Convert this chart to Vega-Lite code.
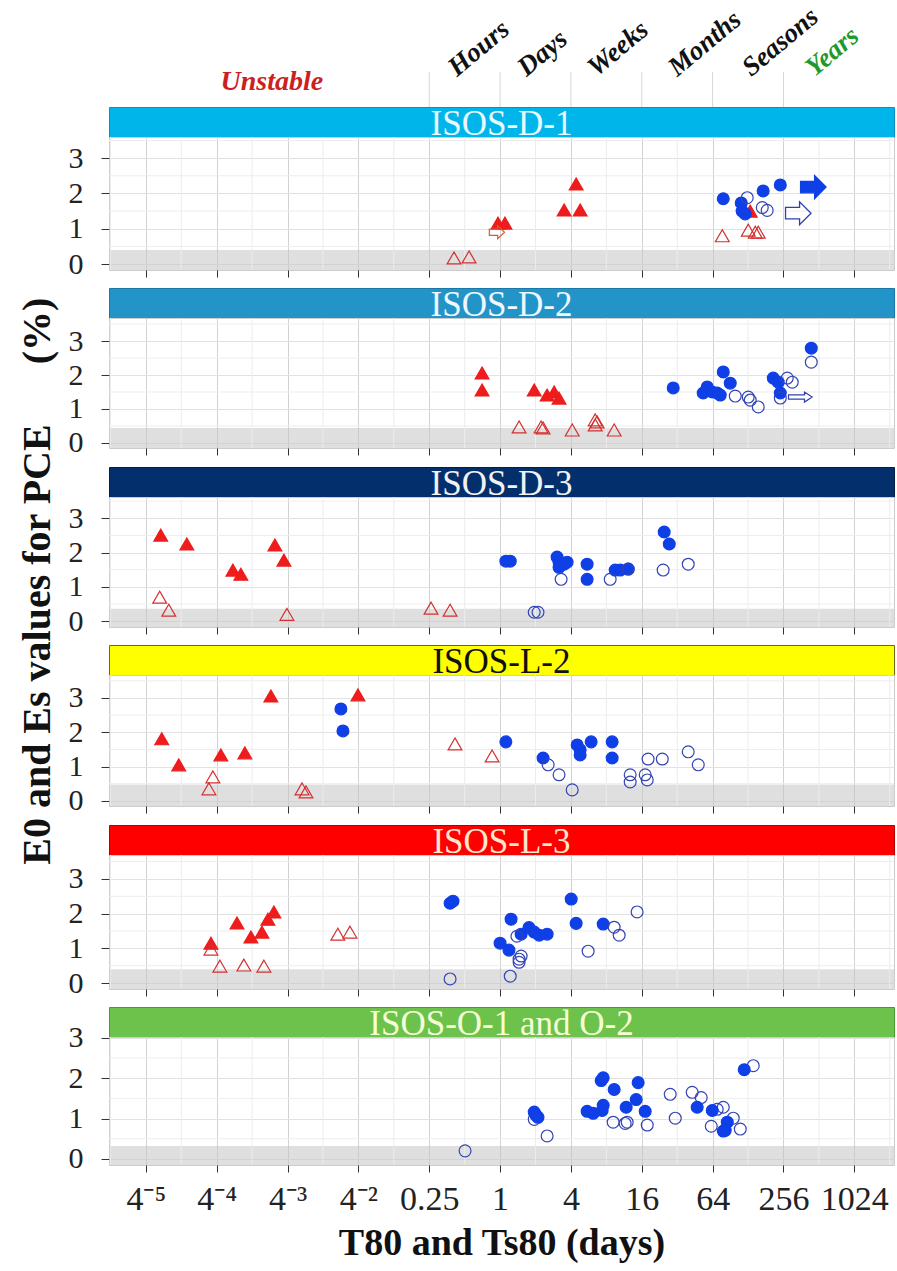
{
  "$schema": "https://vega.github.io/schema/vega-lite/v6.json",
  "background": "white",
  "padding": {"left": 17, "top": 0, "right": 3, "bottom": 2},
  "config": {"view": {"stroke": null}, "font": "Liberation Serif, Times New Roman, serif"},
  "title": {"text": "E0 and Es values for PCE\u00a0\u00a0\u00a0\u00a0\u00a0\u00a0(%)", "orient": "left", "anchor": "middle", "font": "Liberation Serif, Times New Roman, serif", "fontSize": 40, "fontWeight": "bold", "color": "#111111", "offset": 10, "dx": 50},
  "datasets": {
    "pts": [
      {"panel":"ISOS-D-1","series":"E0 unstable","days":0.96,"pce":1.16},
      {"panel":"ISOS-D-1","series":"E0 unstable","days":1.10,"pce":1.16},
      {"panel":"ISOS-D-1","series":"E0 unstable","days":3.50,"pce":1.53},
      {"panel":"ISOS-D-1","series":"E0 unstable","days":4.79,"pce":1.53},
      {"panel":"ISOS-D-1","series":"E0 unstable","days":4.43,"pce":2.27},
      {"panel":"ISOS-D-1","series":"E0 unstable","days":133.6,"pce":1.50},
      {"panel":"ISOS-D-1","series":"Es unstable, ongoing","days":0.94,"pce":0.90},
      {"panel":"ISOS-D-1","series":"Es unstable","days":0.406,"pce":0.17},
      {"panel":"ISOS-D-1","series":"Es unstable","days":0.545,"pce":0.20},
      {"panel":"ISOS-D-1","series":"Es unstable","days":77.3,"pce":0.80},
      {"panel":"ISOS-D-1","series":"Es unstable","days":128.5,"pce":0.96},
      {"panel":"ISOS-D-1","series":"Es unstable","days":147.4,"pce":0.90},
      {"panel":"ISOS-D-1","series":"Es unstable","days":156.3,"pce":0.90},
      {"panel":"ISOS-D-1","series":"E0 stable","days":78.8,"pce":1.85},
      {"panel":"ISOS-D-1","series":"E0 stable","days":112,"pce":1.73},
      {"panel":"ISOS-D-1","series":"E0 stable","days":114,"pce":1.50},
      {"panel":"ISOS-D-1","series":"E0 stable","days":121,"pce":1.42},
      {"panel":"ISOS-D-1","series":"E0 stable","days":172,"pce":2.07},
      {"panel":"ISOS-D-1","series":"E0 stable","days":240.5,"pce":2.24},
      {"panel":"ISOS-D-1","series":"Es stable","days":126,"pce":1.88},
      {"panel":"ISOS-D-1","series":"Es stable","days":169,"pce":1.60},
      {"panel":"ISOS-D-1","series":"Es stable","days":186,"pce":1.52},
      {"panel":"ISOS-D-1","series":"E0 stable, ongoing","days":459,"pce":2.18},
      {"panel":"ISOS-D-1","series":"Es stable, ongoing","days":342,"pce":1.44},

      {"panel":"ISOS-D-2","series":"E0 unstable","days":0.703,"pce":2.06},
      {"panel":"ISOS-D-2","series":"E0 unstable","days":0.703,"pce":1.56},
      {"panel":"ISOS-D-2","series":"E0 unstable","days":1.95,"pce":1.56},
      {"panel":"ISOS-D-2","series":"E0 unstable","days":2.51,"pce":1.41},
      {"panel":"ISOS-D-2","series":"E0 unstable","days":2.88,"pce":1.50},
      {"panel":"ISOS-D-2","series":"E0 unstable","days":3.17,"pce":1.32},
      {"panel":"ISOS-D-2","series":"Es unstable","days":1.45,"pce":0.47},
      {"panel":"ISOS-D-2","series":"Es unstable","days":2.23,"pce":0.47},
      {"panel":"ISOS-D-2","series":"Es unstable","days":2.32,"pce":0.44},
      {"panel":"ISOS-D-2","series":"Es unstable","days":4.10,"pce":0.38},
      {"panel":"ISOS-D-2","series":"Es unstable","days":6.43,"pce":0.68},
      {"panel":"ISOS-D-2","series":"Es unstable","days":6.68,"pce":0.62},
      {"panel":"ISOS-D-2","series":"Es unstable","days":6.43,"pce":0.53},
      {"panel":"ISOS-D-2","series":"Es unstable","days":9.32,"pce":0.38},
      {"panel":"ISOS-D-2","series":"E0 stable","days":29.6,"pce":1.62},
      {"panel":"ISOS-D-2","series":"E0 stable","days":57.6,"pce":1.65},
      {"panel":"ISOS-D-2","series":"E0 stable","days":53.2,"pce":1.47},
      {"panel":"ISOS-D-2","series":"E0 stable","days":63.5,"pce":1.50},
      {"panel":"ISOS-D-2","series":"E0 stable","days":70.0,"pce":1.47},
      {"panel":"ISOS-D-2","series":"E0 stable","days":74.3,"pce":1.41},
      {"panel":"ISOS-D-2","series":"E0 stable","days":78.8,"pce":2.09},
      {"panel":"ISOS-D-2","series":"E0 stable","days":90.3,"pce":1.76},
      {"panel":"ISOS-D-2","series":"E0 stable","days":209.7,"pce":1.91},
      {"panel":"ISOS-D-2","series":"E0 stable","days":231,"pce":1.79},
      {"panel":"ISOS-D-2","series":"E0 stable","days":240.5,"pce":1.47},
      {"panel":"ISOS-D-2","series":"E0 stable","days":441,"pce":2.79},
      {"panel":"ISOS-D-2","series":"Es stable","days":99.6,"pce":1.38},
      {"panel":"ISOS-D-2","series":"Es stable","days":128.5,"pce":1.35},
      {"panel":"ISOS-D-2","series":"Es stable","days":133.6,"pce":1.26},
      {"panel":"ISOS-D-2","series":"Es stable","days":156.3,"pce":1.06},
      {"panel":"ISOS-D-2","series":"Es stable","days":275.7,"pce":1.91},
      {"panel":"ISOS-D-2","series":"Es stable","days":304,"pce":1.79},
      {"panel":"ISOS-D-2","series":"Es stable","days":240.5,"pce":1.32},
      {"panel":"ISOS-D-2","series":"Es stable","days":441,"pce":2.38},
      {"panel":"ISOS-D-2","series":"Es stable, ongoing","days":356,"pce":1.35},

      {"panel":"ISOS-D-3","series":"E0 unstable","days":0.001308,"pce":2.51},
      {"panel":"ISOS-D-3","series":"E0 unstable","days":0.002177,"pce":2.25},
      {"panel":"ISOS-D-3","series":"E0 unstable","days":0.005367,"pce":1.49},
      {"panel":"ISOS-D-3","series":"E0 unstable","days":0.006267,"pce":1.37},
      {"panel":"ISOS-D-3","series":"E0 unstable","days":0.0122,"pce":2.22},
      {"panel":"ISOS-D-3","series":"E0 unstable","days":0.01456,"pce":1.78},
      {"panel":"ISOS-D-3","series":"Es unstable","days":0.001281,"pce":0.70},
      {"panel":"ISOS-D-3","series":"Es unstable","days":0.00153,"pce":0.32},
      {"panel":"ISOS-D-3","series":"Es unstable","days":0.01544,"pce":0.20},
      {"panel":"ISOS-D-3","series":"Es unstable","days":0.259,"pce":0.38},
      {"panel":"ISOS-D-3","series":"Es unstable","days":0.376,"pce":0.32},
      {"panel":"ISOS-D-3","series":"E0 stable","days":1.12,"pce":1.75},
      {"panel":"ISOS-D-3","series":"E0 stable","days":1.22,"pce":1.75},
      {"panel":"ISOS-D-3","series":"E0 stable","days":3.05,"pce":1.87},
      {"panel":"ISOS-D-3","series":"E0 stable","days":3.17,"pce":1.72},
      {"panel":"ISOS-D-3","series":"E0 stable","days":3.50,"pce":1.66},
      {"panel":"ISOS-D-3","series":"E0 stable","days":3.71,"pce":1.72},
      {"panel":"ISOS-D-3","series":"E0 stable","days":3.17,"pce":1.57},
      {"panel":"ISOS-D-3","series":"E0 stable","days":5.49,"pce":1.66},
      {"panel":"ISOS-D-3","series":"E0 stable","days":5.49,"pce":1.22},
      {"panel":"ISOS-D-3","series":"E0 stable","days":9.51,"pce":1.49},
      {"panel":"ISOS-D-3","series":"E0 stable","days":10.48,"pce":1.49},
      {"panel":"ISOS-D-3","series":"E0 stable","days":12.26,"pce":1.52},
      {"panel":"ISOS-D-3","series":"E0 stable","days":24.8,"pce":2.60},
      {"panel":"ISOS-D-3","series":"E0 stable","days":27.4,"pce":2.25},
      {"panel":"ISOS-D-3","series":"Es stable","days":3.30,"pce":1.22},
      {"panel":"ISOS-D-3","series":"Es stable","days":1.95,"pce":0.26},
      {"panel":"ISOS-D-3","series":"Es stable","days":2.10,"pce":0.26},
      {"panel":"ISOS-D-3","series":"Es stable","days":8.62,"pce":1.22},
      {"panel":"ISOS-D-3","series":"Es stable","days":12.26,"pce":1.52},
      {"panel":"ISOS-D-3","series":"Es stable","days":24.3,"pce":1.49},
      {"panel":"ISOS-D-3","series":"Es stable","days":39.7,"pce":1.66},

      {"panel":"ISOS-L-2","series":"E0 unstable","days":0.001333,"pce":1.81},
      {"panel":"ISOS-L-2","series":"E0 unstable","days":0.00186,"pce":1.05},
      {"panel":"ISOS-L-2","series":"E0 unstable","days":0.004236,"pce":1.34},
      {"panel":"ISOS-L-2","series":"E0 unstable","days":0.006784,"pce":1.40},
      {"panel":"ISOS-L-2","series":"E0 unstable","days":0.01128,"pce":3.06},
      {"panel":"ISOS-L-2","series":"E0 unstable","days":0.062,"pce":3.09},
      {"panel":"ISOS-L-2","series":"Es unstable","days":0.003627,"pce":0.70},
      {"panel":"ISOS-L-2","series":"Es unstable","days":0.003356,"pce":0.35},
      {"panel":"ISOS-L-2","series":"Es unstable","days":0.02075,"pce":0.35},
      {"panel":"ISOS-L-2","series":"Es unstable","days":0.02242,"pce":0.26},
      {"panel":"ISOS-L-2","series":"Es unstable","days":0.414,"pce":1.66},
      {"panel":"ISOS-L-2","series":"Es unstable","days":0.855,"pce":1.31},
      {"panel":"ISOS-L-2","series":"E0 stable","days":0.0444,"pce":2.68},
      {"panel":"ISOS-L-2","series":"E0 stable","days":0.0462,"pce":2.04},
      {"panel":"ISOS-L-2","series":"E0 stable","days":1.12,"pce":1.72},
      {"panel":"ISOS-L-2","series":"E0 stable","days":2.32,"pce":1.25},
      {"panel":"ISOS-L-2","series":"E0 stable","days":4.52,"pce":1.63},
      {"panel":"ISOS-L-2","series":"E0 stable","days":4.79,"pce":1.49},
      {"panel":"ISOS-L-2","series":"E0 stable","days":4.79,"pce":1.34},
      {"panel":"ISOS-L-2","series":"E0 stable","days":5.94,"pce":1.72},
      {"panel":"ISOS-L-2","series":"E0 stable","days":8.96,"pce":1.72},
      {"panel":"ISOS-L-2","series":"E0 stable","days":8.96,"pce":1.25},
      {"panel":"ISOS-L-2","series":"Es stable","days":2.56,"pce":1.05},
      {"panel":"ISOS-L-2","series":"Es stable","days":3.17,"pce":0.76},
      {"panel":"ISOS-L-2","series":"Es stable","days":4.10,"pce":0.32},
      {"panel":"ISOS-L-2","series":"Es stable","days":12.75,"pce":0.76},
      {"panel":"ISOS-L-2","series":"Es stable","days":12.75,"pce":0.55},
      {"panel":"ISOS-L-2","series":"Es stable","days":17.1,"pce":0.76},
      {"panel":"ISOS-L-2","series":"Es stable","days":17.8,"pce":0.61},
      {"panel":"ISOS-L-2","series":"Es stable","days":18.1,"pce":1.22},
      {"panel":"ISOS-L-2","series":"Es stable","days":23.9,"pce":1.22},
      {"panel":"ISOS-L-2","series":"Es stable","days":39.7,"pce":1.43},
      {"panel":"ISOS-L-2","series":"Es stable","days":48.3,"pce":1.05},

      {"panel":"ISOS-L-3","series":"E0 unstable","days":0.00349,"pce":1.15},
      {"panel":"ISOS-L-3","series":"E0 unstable","days":0.00581,"pce":1.73},
      {"panel":"ISOS-L-3","series":"E0 unstable","days":0.00763,"pce":1.33},
      {"panel":"ISOS-L-3","series":"E0 unstable","days":0.00947,"pce":1.47},
      {"panel":"ISOS-L-3","series":"E0 unstable","days":0.01064,"pce":1.84},
      {"panel":"ISOS-L-3","series":"E0 unstable","days":0.01196,"pce":2.05},
      {"panel":"ISOS-L-3","series":"Es unstable","days":0.00349,"pce":0.98},
      {"panel":"ISOS-L-3","series":"Es unstable","days":0.00416,"pce":0.49},
      {"panel":"ISOS-L-3","series":"Es unstable","days":0.00665,"pce":0.52},
      {"panel":"ISOS-L-3","series":"Es unstable","days":0.00984,"pce":0.49},
      {"panel":"ISOS-L-3","series":"Es unstable","days":0.0418,"pce":1.41},
      {"panel":"ISOS-L-3","series":"Es unstable","days":0.053,"pce":1.47},
      {"panel":"ISOS-L-3","series":"E0 stable","days":0.376,"pce":2.30},
      {"panel":"ISOS-L-3","series":"E0 stable","days":0.398,"pce":2.36},
      {"panel":"ISOS-L-3","series":"E0 stable","days":1.0,"pce":1.15},
      {"panel":"ISOS-L-3","series":"E0 stable","days":1.24,"pce":1.84},
      {"panel":"ISOS-L-3","series":"E0 stable","days":1.19,"pce":0.95},
      {"panel":"ISOS-L-3","series":"E0 stable","days":1.51,"pce":1.41},
      {"panel":"ISOS-L-3","series":"E0 stable","days":1.76,"pce":1.60},
      {"panel":"ISOS-L-3","series":"E0 stable","days":1.95,"pce":1.47},
      {"panel":"ISOS-L-3","series":"E0 stable","days":2.15,"pce":1.38},
      {"panel":"ISOS-L-3","series":"E0 stable","days":2.51,"pce":1.41},
      {"panel":"ISOS-L-3","series":"E0 stable","days":4.02,"pce":2.42},
      {"panel":"ISOS-L-3","series":"E0 stable","days":4.43,"pce":1.72},
      {"panel":"ISOS-L-3","series":"E0 stable","days":7.52,"pce":1.70},
      {"panel":"ISOS-L-3","series":"Es stable","days":0.376,"pce":0.12},
      {"panel":"ISOS-L-3","series":"Es stable","days":1.22,"pce":0.20},
      {"panel":"ISOS-L-3","series":"Es stable","days":1.39,"pce":1.35},
      {"panel":"ISOS-L-3","series":"Es stable","days":1.45,"pce":0.69},
      {"panel":"ISOS-L-3","series":"Es stable","days":1.51,"pce":0.78},
      {"panel":"ISOS-L-3","series":"Es stable","days":1.45,"pce":0.60},
      {"panel":"ISOS-L-3","series":"Es stable","days":5.60,"pce":0.92},
      {"panel":"ISOS-L-3","series":"Es stable","days":9.32,"pce":1.61},
      {"panel":"ISOS-L-3","series":"Es stable","days":10.28,"pce":1.38},
      {"panel":"ISOS-L-3","series":"Es stable","days":14.6,"pce":2.05},

      {"panel":"ISOS-O","series":"Es stable","days":0.504,"pce":0.20},
      {"panel":"ISOS-O","series":"Es stable","days":1.95,"pce":0.98},
      {"panel":"ISOS-O","series":"Es stable","days":2.51,"pce":0.57},
      {"panel":"ISOS-O","series":"Es stable","days":9.14,"pce":0.91},
      {"panel":"ISOS-O","series":"Es stable","days":11.56,"pce":0.88},
      {"panel":"ISOS-O","series":"Es stable","days":12.02,"pce":0.91},
      {"panel":"ISOS-O","series":"Es stable","days":17.8,"pce":0.84},
      {"panel":"ISOS-O","series":"Es stable","days":27.9,"pce":1.60},
      {"panel":"ISOS-O","series":"Es stable","days":30.8,"pce":1.01},
      {"panel":"ISOS-O","series":"Es stable","days":42.9,"pce":1.65},
      {"panel":"ISOS-O","series":"Es stable","days":51.2,"pce":1.52},
      {"panel":"ISOS-O","series":"Es stable","days":62.3,"pce":0.81},
      {"panel":"ISOS-O","series":"Es stable","days":70.0,"pce":1.23},
      {"panel":"ISOS-O","series":"Es stable","days":78.8,"pce":1.28},
      {"panel":"ISOS-O","series":"Es stable","days":95.8,"pce":1.01},
      {"panel":"ISOS-O","series":"Es stable","days":109.9,"pce":0.74},
      {"panel":"ISOS-O","series":"Es stable","days":141.7,"pce":2.31},
      {"panel":"ISOS-O","series":"E0 stable","days":1.95,"pce":1.16},
      {"panel":"ISOS-O","series":"E0 stable","days":2.02,"pce":1.08},
      {"panel":"ISOS-O","series":"E0 stable","days":2.10,"pce":1.03},
      {"panel":"ISOS-O","series":"E0 stable","days":5.49,"pce":1.18},
      {"panel":"ISOS-O","series":"E0 stable","days":6.18,"pce":1.13},
      {"panel":"ISOS-O","series":"E0 stable","days":7.37,"pce":1.20},
      {"panel":"ISOS-O","series":"E0 stable","days":7.52,"pce":1.33},
      {"panel":"ISOS-O","series":"E0 stable","days":7.23,"pce":1.94},
      {"panel":"ISOS-O","series":"E0 stable","days":7.52,"pce":2.01},
      {"panel":"ISOS-O","series":"E0 stable","days":9.32,"pce":1.72},
      {"panel":"ISOS-O","series":"E0 stable","days":11.79,"pce":1.28},
      {"panel":"ISOS-O","series":"E0 stable","days":14.34,"pce":1.47},
      {"panel":"ISOS-O","series":"E0 stable","days":14.9,"pce":1.89},
      {"panel":"ISOS-O","series":"E0 stable","days":17.1,"pce":1.18},
      {"panel":"ISOS-O","series":"E0 stable","days":47.3,"pce":1.28},
      {"panel":"ISOS-O","series":"E0 stable","days":63.5,"pce":1.20},
      {"panel":"ISOS-O","series":"E0 stable","days":85.2,"pce":0.91},
      {"panel":"ISOS-O","series":"E0 stable","days":81.9,"pce":0.71},
      {"panel":"ISOS-O","series":"E0 stable","days":78.8,"pce":0.69},
      {"panel":"ISOS-O","series":"E0 stable","days":118.8,"pce":2.21}
    ],
    "minorx": [{"m":0.00048828125},{"m":0.001953125},{"m":0.0078125},{"m":0.03125},{"m":0.125},{"m":0.5},{"m":2},{"m":8},{"m":32},{"m":128},{"m":512},{"m":2048}],
    "minory": [{"g":0.5},{"g":1.5},{"g":2.5},{"g":3.5}]
  },
  "spacing": 7,
  "vconcat": [
    {
      "spacing": 0,
      "bounds": "flush",
      "vconcat": [
        {
          "width": 785, "height": 107,
          "view": {"stroke": null},
          "layer": [
            {"data": {"values": [{"days":0.25},{"days":1},{"days":4},{"days":16},{"days":64},{"days":256}]},
             "mark": {"type": "rule", "color": "#d6d6d6", "strokeWidth": 1},
             "encoding": {
               "x": {"field": "days", "type": "quantitative", "scale": {"type":"log","base":4,"domain":[0.000475,2225],"nice":false}, "axis": null},
               "y": {"datum": 0, "type": "quantitative", "scale": {"domain": [0, 1]}, "axis": null},
               "y2": {"datum": 0.33}}},
            {"data": {"values": [{"label":"Hours","days":0.43},{"label":"Days","days":1.68},{"label":"Weeks","days":6.6},{"label":"Months","days":32},{"label":"Seasons","days":136},{"label":"Years","days":470}]},
             "mark": {"type": "text", "angle": -40, "align": "left", "baseline": "alphabetic", "font": "Liberation Serif, Times New Roman, serif", "fontSize": 27, "fontWeight": "bold", "fontStyle": "italic"},
             "encoding": {
               "x": {"field": "days", "type": "quantitative", "scale": {"type":"log","base":4,"domain":[0.000475,2225],"nice":false}, "axis": null},
               "y": {"datum": 0.277, "type": "quantitative", "scale": {"domain": [0, 1]}, "axis": null},
               "text": {"field": "label"},
               "color": {"condition": {"test": "datum.label === 'Years'", "value": "#1e9a2c"}, "value": "#111111"}}},
            {"data": {"values": [{"label":"Unstable","days":0.0115}]},
             "mark": {"type": "text", "align": "center", "baseline": "middle", "font": "Liberation Serif, Times New Roman, serif", "fontSize": 28, "fontWeight": "bold", "fontStyle": "italic", "color": "#cc1f1f"},
             "encoding": {
               "x": {"field": "days", "type": "quantitative", "scale": {"type":"log","base":4,"domain":[0.000475,2225],"nice":false}, "axis": null},
               "y": {"datum": 0.233, "type": "quantitative", "scale": {"domain": [0, 1]}, "axis": null},
               "text": {"field": "label"}}}
          ]
        },
        {
          "width": 785, "height": 30,
          "view": {"fill": "#00b5ea", "stroke": "#0a8fc0"},
          "data": {"values": [{"label": "ISOS-D-1"}]},
          "mark": {"type": "text", "font": "Liberation Serif, Times New Roman, serif", "fontSize": 35, "color": "#eaf8ff", "align": "center", "baseline": "middle", "dy": 2},
          "encoding": {"text": {"field": "label"}}
        },
        {
          "width": 785, "height": 133,
          "view": {"stroke": "#cccccc"},
          "layer": [
            {"data": {"values": [{"zone": "low"}]}, "mark": {"type": "rect", "color": "#c4c4c4", "opacity": 0.55},
             "encoding": {"y": {"datum": -0.17, "type": "quantitative", "scale": {"domain": [-0.17, 3.6], "nice": false, "zero": false},
                     "axis": {"values": [0,1,2,3], "title": null, "grid": true, "gridColor": "#e2e2e2", "domain": false, "tickSize": 8, "tickColor": "#333333", "labelFont": "Liberation Serif, Times New Roman, serif", "labelFontSize": 30, "labelColor": "#222222", "labelPadding": 18}}, "y2": {"datum": 0.4}}},
            {"data": {"name": "minorx"}, "mark": {"type": "rule", "color": "#ececec"},
             "encoding": {"x": {"field": "m", "type": "quantitative", "scale": {"type":"log","base":4,"domain":[0.000475,2225],"nice":false},
                     "axis": {"values": [0.0009765625,0.00390625,0.015625,0.0625,0.25,1,4,16,64,256,1024], "labels": false, "title": null, "grid": true, "gridColor": "#d2d2d2", "domain": false, "tickSize": 7, "tickColor": "#333333"}}}},
            {"data": {"name": "minory"}, "mark": {"type": "rule", "color": "#ededed"},
             "encoding": {"y": {"field": "g", "type": "quantitative", "title": null}}},
            {"data": {"name": "pts"}, "transform": [{"filter": {"field": "panel", "equal": "ISOS-D-1"}}, {"filter": {"field": "series", "oneOf": ["E0 unstable", "Es unstable"]}}],
             "mark": {"type": "point", "shape": "triangle-up", "size": 190, "strokeWidth": 1.2, "opacity": 1},
             "encoding": {
               "x": {"field": "days", "type": "quantitative", "title": null},
               "y": {"field": "pce", "type": "quantitative", "title": null},
               "fill": {"field": "series", "type": "nominal", "legend": null, "scale": {"domain": ["E0 unstable","Es unstable","E0 stable","Es stable","E0 stable, ongoing","Es stable, ongoing","Es unstable, ongoing"], "range": ["#ee1c1c","transparent","#0f3fe6","transparent","#0f3fe6","transparent","transparent"]}},
               "stroke": {"field": "series", "type": "nominal", "legend": null, "scale": {"domain": ["E0 unstable","Es unstable","E0 stable","Es stable","E0 stable, ongoing","Es stable, ongoing","Es unstable, ongoing"], "range": ["#ee1c1c","#d43030","#0f3fe6","#3444b4","#0f3fe6","#3040b0","#e05a30"]}}}},
            {"data": {"name": "pts"}, "transform": [{"filter": {"field": "panel", "equal": "ISOS-D-1"}}, {"filter": {"field": "series", "oneOf": ["E0 stable", "Es stable"]}}],
             "mark": {"type": "point", "shape": "circle", "size": 140, "strokeWidth": 1.2, "opacity": 1},
             "encoding": {
               "x": {"field": "days", "type": "quantitative", "title": null},
               "y": {"field": "pce", "type": "quantitative", "title": null},
               "fill": {"field": "series", "type": "nominal", "legend": null},
               "stroke": {"field": "series", "type": "nominal", "legend": null}}},
            {"data": {"name": "pts"}, "transform": [{"filter": {"field": "panel", "equal": "ISOS-D-1"}}, {"filter": {"field": "series", "oneOf": ["E0 stable, ongoing", "Es stable, ongoing"]}}],
             "mark": {"type": "point", "shape": "M-1,-0.45L0.1,-0.45L0.1,-0.9L1,0L0.1,0.9L0.1,0.45L-1,0.45Z", "size": 650, "strokeWidth": 1.3, "opacity": 1},
             "encoding": {
               "x": {"field": "days", "type": "quantitative", "title": null},
               "y": {"field": "pce", "type": "quantitative", "title": null},
               "fill": {"field": "series", "type": "nominal", "legend": null},
               "stroke": {"field": "series", "type": "nominal", "legend": null}}},
            {"data": {"name": "pts"}, "transform": [{"filter": {"field": "panel", "equal": "ISOS-D-1"}}, {"filter": {"field": "series", "equal": "Es unstable, ongoing"}}],
             "mark": {"type": "point", "shape": "M-1,-0.4L0.1,-0.4L0.1,-0.85L1,0L0.1,0.85L0.1,0.4L-1,0.4Z", "size": 230, "strokeWidth": 1.2, "opacity": 1},
             "encoding": {
               "x": {"field": "days", "type": "quantitative", "title": null},
               "y": {"field": "pce", "type": "quantitative", "title": null},
               "fill": {"field": "series", "type": "nominal", "legend": null},
               "stroke": {"field": "series", "type": "nominal", "legend": null}}}
          ]
        }
      ]
    },
    {
      "spacing": 0,
      "bounds": "flush",
      "vconcat": [
        {
          "width": 785, "height": 30,
          "view": {"fill": "#2394c8", "stroke": "#1a78a8"},
          "data": {"values": [{"label": "ISOS-D-2"}]},
          "mark": {"type": "text", "font": "Liberation Serif, Times New Roman, serif", "fontSize": 35, "color": "#eef8ff", "align": "center", "baseline": "middle", "dy": 2},
          "encoding": {"text": {"field": "label"}}
        },
        {
          "width": 785, "height": 130,
          "view": {"stroke": "#cccccc"},
          "layer": [
            {"data": {"values": [{"zone": "low"}]}, "mark": {"type": "rect", "color": "#c4c4c4", "opacity": 0.55},
             "encoding": {"y": {"datum": -0.15, "type": "quantitative", "scale": {"domain": [-0.15, 3.68], "nice": false, "zero": false},
                     "axis": {"values": [0,1,2,3], "title": null, "grid": true, "gridColor": "#e2e2e2", "domain": false, "tickSize": 8, "tickColor": "#333333", "labelFont": "Liberation Serif, Times New Roman, serif", "labelFontSize": 30, "labelColor": "#222222", "labelPadding": 18}}, "y2": {"datum": 0.44}}},
            {"data": {"name": "minorx"}, "mark": {"type": "rule", "color": "#ececec"},
             "encoding": {"x": {"field": "m", "type": "quantitative", "scale": {"type":"log","base":4,"domain":[0.000475,2225],"nice":false},
                     "axis": {"values": [0.0009765625,0.00390625,0.015625,0.0625,0.25,1,4,16,64,256,1024], "labels": false, "title": null, "grid": true, "gridColor": "#d2d2d2", "domain": false, "tickSize": 7, "tickColor": "#333333"}}}},
            {"data": {"name": "minory"}, "mark": {"type": "rule", "color": "#ededed"},
             "encoding": {"y": {"field": "g", "type": "quantitative", "title": null}}},
            {"data": {"name": "pts"}, "transform": [{"filter": {"field": "panel", "equal": "ISOS-D-2"}}, {"filter": {"field": "series", "oneOf": ["E0 unstable", "Es unstable"]}}],
             "mark": {"type": "point", "shape": "triangle-up", "size": 190, "strokeWidth": 1.2, "opacity": 1},
             "encoding": {
               "x": {"field": "days", "type": "quantitative", "title": null},
               "y": {"field": "pce", "type": "quantitative", "title": null},
               "fill": {"field": "series", "type": "nominal", "legend": null},
               "stroke": {"field": "series", "type": "nominal", "legend": null}}},
            {"data": {"name": "pts"}, "transform": [{"filter": {"field": "panel", "equal": "ISOS-D-2"}}, {"filter": {"field": "series", "oneOf": ["E0 stable", "Es stable"]}}],
             "mark": {"type": "point", "shape": "circle", "size": 140, "strokeWidth": 1.2, "opacity": 1},
             "encoding": {
               "x": {"field": "days", "type": "quantitative", "title": null},
               "y": {"field": "pce", "type": "quantitative", "title": null},
               "fill": {"field": "series", "type": "nominal", "legend": null},
               "stroke": {"field": "series", "type": "nominal", "legend": null}}},
            {"data": {"name": "pts"}, "transform": [{"filter": {"field": "panel", "equal": "ISOS-D-2"}}, {"filter": {"field": "series", "equal": "Es stable, ongoing"}}],
             "mark": {"type": "point", "shape": "M-1,-0.18L0.35,-0.18L0.35,-0.42L1,0L0.35,0.42L0.35,0.18L-1,0.18Z", "size": 560, "strokeWidth": 1.2, "opacity": 1},
             "encoding": {
               "x": {"field": "days", "type": "quantitative", "title": null},
               "y": {"field": "pce", "type": "quantitative", "title": null},
               "fill": {"field": "series", "type": "nominal", "legend": null},
               "stroke": {"field": "series", "type": "nominal", "legend": null}}}
          ]
        }
      ]
    },
    {
      "spacing": 0,
      "bounds": "flush",
      "vconcat": [
        {
          "width": 785, "height": 30,
          "view": {"fill": "#03306c", "stroke": "#021f48"},
          "data": {"values": [{"label": "ISOS-D-3"}]},
          "mark": {"type": "text", "font": "Liberation Serif, Times New Roman, serif", "fontSize": 35, "color": "#f2f2f2", "align": "center", "baseline": "middle", "dy": 2},
          "encoding": {"text": {"field": "label"}}
        },
        {
          "width": 785, "height": 130,
          "view": {"stroke": "#cccccc"},
          "layer": [
            {"data": {"values": [{"zone": "low"}]}, "mark": {"type": "rect", "color": "#c4c4c4", "opacity": 0.55},
             "encoding": {"y": {"datum": -0.17, "type": "quantitative", "scale": {"domain": [-0.17, 3.62], "nice": false, "zero": false},
                     "axis": {"values": [0,1,2,3], "title": null, "grid": true, "gridColor": "#e2e2e2", "domain": false, "tickSize": 8, "tickColor": "#333333", "labelFont": "Liberation Serif, Times New Roman, serif", "labelFontSize": 30, "labelColor": "#222222", "labelPadding": 18}}, "y2": {"datum": 0.36}}},
            {"data": {"name": "minorx"}, "mark": {"type": "rule", "color": "#ececec"},
             "encoding": {"x": {"field": "m", "type": "quantitative", "scale": {"type":"log","base":4,"domain":[0.000475,2225],"nice":false},
                     "axis": {"values": [0.0009765625,0.00390625,0.015625,0.0625,0.25,1,4,16,64,256,1024], "labels": false, "title": null, "grid": true, "gridColor": "#d2d2d2", "domain": false, "tickSize": 7, "tickColor": "#333333"}}}},
            {"data": {"name": "minory"}, "mark": {"type": "rule", "color": "#ededed"},
             "encoding": {"y": {"field": "g", "type": "quantitative", "title": null}}},
            {"data": {"name": "pts"}, "transform": [{"filter": {"field": "panel", "equal": "ISOS-D-3"}}, {"filter": {"field": "series", "oneOf": ["E0 unstable", "Es unstable"]}}],
             "mark": {"type": "point", "shape": "triangle-up", "size": 190, "strokeWidth": 1.2, "opacity": 1},
             "encoding": {
               "x": {"field": "days", "type": "quantitative", "title": null},
               "y": {"field": "pce", "type": "quantitative", "title": null},
               "fill": {"field": "series", "type": "nominal", "legend": null},
               "stroke": {"field": "series", "type": "nominal", "legend": null}}},
            {"data": {"name": "pts"}, "transform": [{"filter": {"field": "panel", "equal": "ISOS-D-3"}}, {"filter": {"field": "series", "oneOf": ["E0 stable", "Es stable"]}}],
             "mark": {"type": "point", "shape": "circle", "size": 140, "strokeWidth": 1.2, "opacity": 1},
             "encoding": {
               "x": {"field": "days", "type": "quantitative", "title": null},
               "y": {"field": "pce", "type": "quantitative", "title": null},
               "fill": {"field": "series", "type": "nominal", "legend": null},
               "stroke": {"field": "series", "type": "nominal", "legend": null}}}
          ]
        }
      ]
    },
    {
      "spacing": 0,
      "bounds": "flush",
      "vconcat": [
        {
          "width": 785, "height": 30,
          "view": {"fill": "#ffff00", "stroke": "#6b6b10"},
          "data": {"values": [{"label": "ISOS-L-2"}]},
          "mark": {"type": "text", "font": "Liberation Serif, Times New Roman, serif", "fontSize": 35, "color": "#111111", "align": "center", "baseline": "middle", "dy": 2},
          "encoding": {"text": {"field": "label"}}
        },
        {
          "width": 785, "height": 131,
          "view": {"stroke": "#cccccc"},
          "layer": [
            {"data": {"values": [{"zone": "low"}]}, "mark": {"type": "rect", "color": "#c4c4c4", "opacity": 0.55},
             "encoding": {"y": {"datum": -0.15, "type": "quantitative", "scale": {"domain": [-0.15, 3.67], "nice": false, "zero": false},
                     "axis": {"values": [0,1,2,3], "title": null, "grid": true, "gridColor": "#e2e2e2", "domain": false, "tickSize": 8, "tickColor": "#333333", "labelFont": "Liberation Serif, Times New Roman, serif", "labelFontSize": 30, "labelColor": "#222222", "labelPadding": 18}}, "y2": {"datum": 0.48}}},
            {"data": {"name": "minorx"}, "mark": {"type": "rule", "color": "#ececec"},
             "encoding": {"x": {"field": "m", "type": "quantitative", "scale": {"type":"log","base":4,"domain":[0.000475,2225],"nice":false},
                     "axis": {"values": [0.0009765625,0.00390625,0.015625,0.0625,0.25,1,4,16,64,256,1024], "labels": false, "title": null, "grid": true, "gridColor": "#d2d2d2", "domain": false, "tickSize": 7, "tickColor": "#333333"}}}},
            {"data": {"name": "minory"}, "mark": {"type": "rule", "color": "#ededed"},
             "encoding": {"y": {"field": "g", "type": "quantitative", "title": null}}},
            {"data": {"name": "pts"}, "transform": [{"filter": {"field": "panel", "equal": "ISOS-L-2"}}, {"filter": {"field": "series", "oneOf": ["E0 unstable", "Es unstable"]}}],
             "mark": {"type": "point", "shape": "triangle-up", "size": 190, "strokeWidth": 1.2, "opacity": 1},
             "encoding": {
               "x": {"field": "days", "type": "quantitative", "title": null},
               "y": {"field": "pce", "type": "quantitative", "title": null},
               "fill": {"field": "series", "type": "nominal", "legend": null},
               "stroke": {"field": "series", "type": "nominal", "legend": null}}},
            {"data": {"name": "pts"}, "transform": [{"filter": {"field": "panel", "equal": "ISOS-L-2"}}, {"filter": {"field": "series", "oneOf": ["E0 stable", "Es stable"]}}],
             "mark": {"type": "point", "shape": "circle", "size": 140, "strokeWidth": 1.2, "opacity": 1},
             "encoding": {
               "x": {"field": "days", "type": "quantitative", "title": null},
               "y": {"field": "pce", "type": "quantitative", "title": null},
               "fill": {"field": "series", "type": "nominal", "legend": null},
               "stroke": {"field": "series", "type": "nominal", "legend": null}}}
          ]
        }
      ]
    },
    {
      "spacing": 0,
      "bounds": "flush",
      "vconcat": [
        {
          "width": 785, "height": 30,
          "view": {"fill": "#ff0000", "stroke": "#b00000"},
          "data": {"values": [{"label": "ISOS-L-3"}]},
          "mark": {"type": "text", "font": "Liberation Serif, Times New Roman, serif", "fontSize": 35, "color": "#ffe6cc", "align": "center", "baseline": "middle", "dy": 2},
          "encoding": {"text": {"field": "label"}}
        },
        {
          "width": 785, "height": 134,
          "view": {"stroke": "#cccccc"},
          "layer": [
            {"data": {"values": [{"zone": "low"}]}, "mark": {"type": "rect", "color": "#c4c4c4", "opacity": 0.55},
             "encoding": {"y": {"datum": -0.17, "type": "quantitative", "scale": {"domain": [-0.17, 3.69], "nice": false, "zero": false},
                     "axis": {"values": [0,1,2,3], "title": null, "grid": true, "gridColor": "#e2e2e2", "domain": false, "tickSize": 8, "tickColor": "#333333", "labelFont": "Liberation Serif, Times New Roman, serif", "labelFontSize": 30, "labelColor": "#222222", "labelPadding": 18}}, "y2": {"datum": 0.4}}},
            {"data": {"name": "minorx"}, "mark": {"type": "rule", "color": "#ececec"},
             "encoding": {"x": {"field": "m", "type": "quantitative", "scale": {"type":"log","base":4,"domain":[0.000475,2225],"nice":false},
                     "axis": {"values": [0.0009765625,0.00390625,0.015625,0.0625,0.25,1,4,16,64,256,1024], "labels": false, "title": null, "grid": true, "gridColor": "#d2d2d2", "domain": false, "tickSize": 7, "tickColor": "#333333"}}}},
            {"data": {"name": "minory"}, "mark": {"type": "rule", "color": "#ededed"},
             "encoding": {"y": {"field": "g", "type": "quantitative", "title": null}}},
            {"data": {"name": "pts"}, "transform": [{"filter": {"field": "panel", "equal": "ISOS-L-3"}}, {"filter": {"field": "series", "oneOf": ["E0 unstable", "Es unstable"]}}],
             "mark": {"type": "point", "shape": "triangle-up", "size": 190, "strokeWidth": 1.2, "opacity": 1},
             "encoding": {
               "x": {"field": "days", "type": "quantitative", "title": null},
               "y": {"field": "pce", "type": "quantitative", "title": null},
               "fill": {"field": "series", "type": "nominal", "legend": null},
               "stroke": {"field": "series", "type": "nominal", "legend": null}}},
            {"data": {"name": "pts"}, "transform": [{"filter": {"field": "panel", "equal": "ISOS-L-3"}}, {"filter": {"field": "series", "oneOf": ["E0 stable", "Es stable"]}}],
             "mark": {"type": "point", "shape": "circle", "size": 140, "strokeWidth": 1.2, "opacity": 1},
             "encoding": {
               "x": {"field": "days", "type": "quantitative", "title": null},
               "y": {"field": "pce", "type": "quantitative", "title": null},
               "fill": {"field": "series", "type": "nominal", "legend": null},
               "stroke": {"field": "series", "type": "nominal", "legend": null}}}
          ]
        }
      ]
    },
    {
      "spacing": 0,
      "bounds": "flush",
      "vconcat": [
        {
          "width": 785, "height": 30,
          "view": {"fill": "#6cc24a", "stroke": "#4a9a30"},
          "data": {"values": [{"label": "ISOS-O-1 and O-2"}]},
          "mark": {"type": "text", "font": "Liberation Serif, Times New Roman, serif", "fontSize": 35, "color": "#f4ffd6", "align": "center", "baseline": "middle", "dy": 2},
          "encoding": {"text": {"field": "label"}}
        },
        {
          "width": 785, "height": 128,
          "view": {"stroke": "#cccccc"},
          "layer": [
            {"data": {"values": [{"zone": "low"}]}, "mark": {"type": "rect", "color": "#c4c4c4", "opacity": 0.55},
             "encoding": {"y": {"datum": -0.15, "type": "quantitative", "scale": {"domain": [-0.15, 3.02], "nice": false, "zero": false},
                     "axis": {"values": [0,1,2,3], "title": null, "grid": true, "gridColor": "#e2e2e2", "domain": false, "tickSize": 8, "tickColor": "#333333", "labelFont": "Liberation Serif, Times New Roman, serif", "labelFontSize": 30, "labelColor": "#222222", "labelPadding": 18}}, "y2": {"datum": 0.32}}},
            {"data": {"name": "minorx"}, "mark": {"type": "rule", "color": "#ececec"},
             "encoding": {"x": {"field": "m", "type": "quantitative", "title": "T80 and Ts80 (days)", "scale": {"type":"log","base":4,"domain":[0.000475,2225],"nice":false},
                     "axis": {"values": [0.0009765625,0.00390625,0.015625,0.0625,0.25,1,4,16,64,256,1024], "labelExpr": "datum.value < 0.002 ? '4\u207b\u2075' : datum.value < 0.008 ? '4\u207b\u2074' : datum.value < 0.03 ? '4\u207b\u00b3' : datum.value < 0.1 ? '4\u207b\u00b2' : datum.value < 0.5 ? '0.25' : format(datum.value, 'd')", "labelFont": "Liberation Serif, Times New Roman, serif", "labelFontSize": 34, "labelColor": "#222222", "labelPadding": 10, "labelOverlap": false, "labelFlush": false, "title": "T80 and Ts80 (days)", "titleFont": "Liberation Serif, Times New Roman, serif", "titleFontSize": 38, "titleFontWeight": "bold", "titleColor": "#111111", "titlePadding": 8, "grid": true, "gridColor": "#d2d2d2", "domain": false, "tickSize": 7, "tickColor": "#333333"}}}},
            {"data": {"name": "minory"}, "transform": [{"filter": "datum.g < 3"}], "mark": {"type": "rule", "color": "#ededed"},
             "encoding": {"y": {"field": "g", "type": "quantitative", "title": null}}},
            {"data": {"name": "pts"}, "transform": [{"filter": {"field": "panel", "equal": "ISOS-O"}}, {"filter": {"field": "series", "oneOf": ["E0 stable", "Es stable"]}}],
             "mark": {"type": "point", "shape": "circle", "size": 140, "strokeWidth": 1.2, "opacity": 1},
             "encoding": {
               "x": {"field": "days", "type": "quantitative", "title": "T80 and Ts80 (days)"},
               "y": {"field": "pce", "type": "quantitative", "title": null},
               "fill": {"field": "series", "type": "nominal", "legend": null},
               "stroke": {"field": "series", "type": "nominal", "legend": null}}}
          ]
        }
      ]
    }
  ]
}
